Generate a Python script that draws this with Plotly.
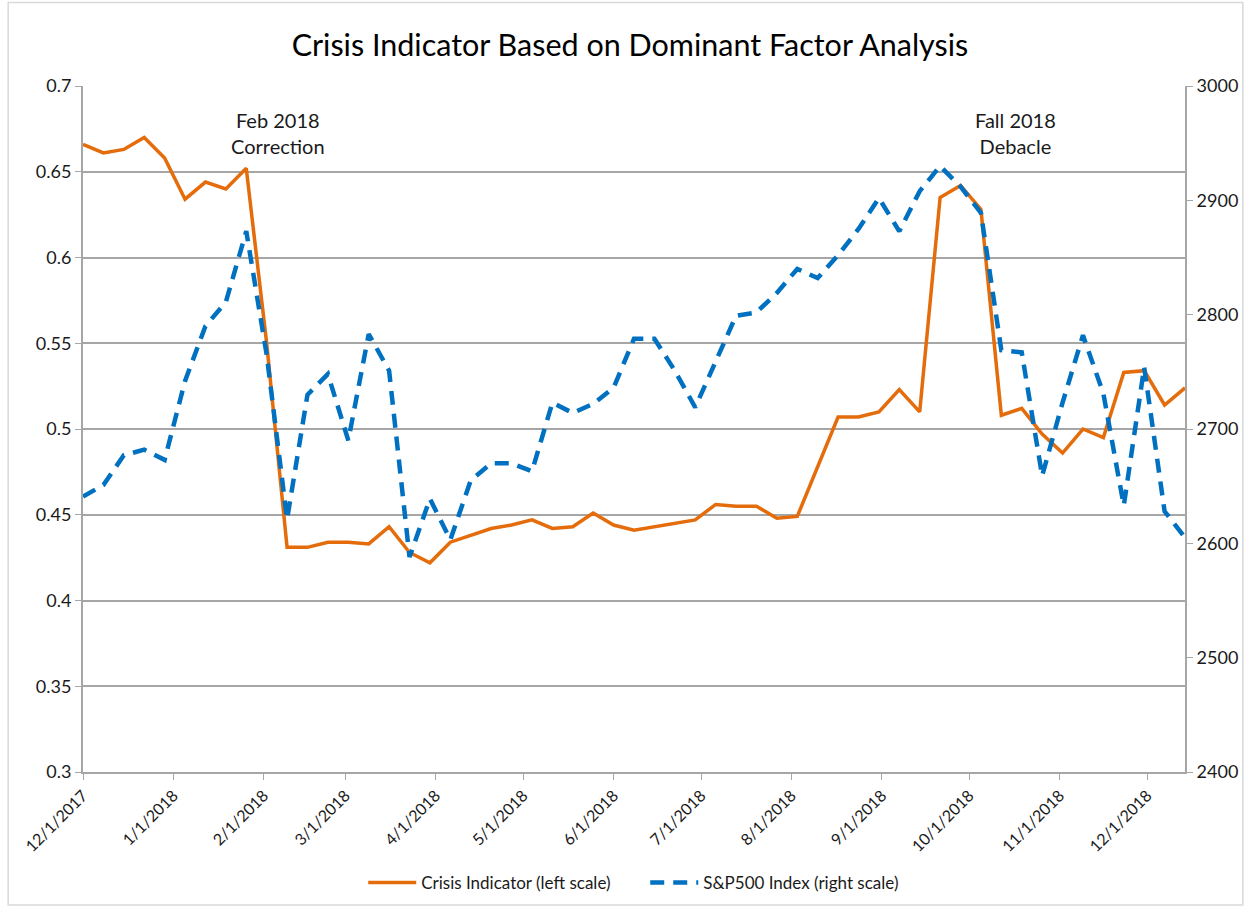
import plotly.graph_objects as go
import pandas as pd

# Weekly observations (Fridays) starting 12/1/2017
start_date = "2017-12-01"
n_weeks = 55
dates = pd.date_range(start_date, periods=n_weeks, freq="7D")

crisis_indicator = [
    0.666, 0.661, 0.663, 0.670, 0.658, 0.634, 0.644, 0.640, 0.652, 0.550,
    0.431, 0.431, 0.434, 0.434, 0.433, 0.443, 0.428, 0.422, 0.434, 0.438,
    0.442, 0.444, 0.447, 0.442, 0.443, 0.451, 0.444, 0.441, 0.443, 0.445,
    0.447, 0.456, 0.455, 0.455, 0.448, 0.449, 0.478, 0.507, 0.507, 0.510,
    0.523, 0.510, 0.635, 0.642, 0.628, 0.508, 0.512, 0.497, 0.486, 0.500,
    0.495, 0.533, 0.534, 0.514, 0.524,
]

sp500 = [
    2641, 2651, 2677, 2682, 2673, 2742, 2790, 2811, 2873, 2765,
    2621, 2730, 2748, 2690, 2783, 2751, 2588, 2639, 2603, 2655,
    2670, 2670, 2663, 2723, 2714, 2722, 2736, 2779, 2779, 2751,
    2719, 2760, 2799, 2802, 2819, 2840, 2832, 2852, 2875, 2902,
    2873, 2908, 2930, 2912, 2889, 2769, 2767, 2659, 2723, 2782,
    2731, 2633, 2754, 2628, 2605,
]

month_ticks = pd.date_range("2017-12-01", "2018-12-01", freq="MS")
month_labels = [f"{d.month}/{d.day}/{d.year}" for d in month_ticks]

left_ticks = [0.3, 0.35, 0.4, 0.45, 0.5, 0.55, 0.6, 0.65, 0.7]
left_labels = ["0.3", "0.35", "0.4", "0.45", "0.5", "0.55", "0.6", "0.65", "0.7"]
right_ticks = [2400, 2500, 2600, 2700, 2800, 2900, 3000]

title_text = "Crisis Indicator Based on Dominant Factor Analysis"
events = [
    {"date": "2018-02-06", "label": "Feb 2018<br>Correction"},
    {"date": "2018-10-17", "label": "Fall 2018<br>Debacle"},
]

FONT = "Lato"
ORANGE = "#E46C0A"
BLUE = "#0070C0"
GRID = "#A6A6A6"
TXT = "#1a1a1a"

fig = go.Figure()
fig.add_trace(go.Scatter(
    x=dates, y=crisis_indicator, mode="lines",
    name="Crisis Indicator (left scale)",
    line=dict(color=ORANGE, width=3.5),
    yaxis="y",
))
fig.add_trace(go.Scatter(
    x=dates, y=sp500, mode="lines",
    name="S&P500 Index (right scale)",
    line=dict(color=BLUE, width=4.5, dash="14px,9px"),
    yaxis="y2",
))

# the photographed viewport is slightly taller than 907, so lay out on 913
W, H = 1250, 913
SY = H / 907.0
L, R = 83, 62
T = round(85 * SY)
B = H - round(772 * SY)
pw, ph = W - L - R, H - T - B

def px2paper(x, y):
    return (x - L) / pw, (H - B - y * SY) / ph

for ev in events:
    fig.add_annotation(
        x=ev["date"], y=1.0, xref="x", yref="paper",
        yshift=-20, text=ev["label"], showarrow=False,
        font=dict(family=FONT, size=20, color=TXT), yanchor="top",
        align="center",
    )

x0, y0 = px2paper(8, 905)
x1, y1 = px2paper(1246, 2)
fig.add_shape(type="rect", xref="paper", yref="paper",
              x0=x0, y0=y0, x1=x1, y1=y1,
              line=dict(color="#D9D9D9", width=1.5), layer="below")

leg_x, leg_y = px2paper(364, 883)

fig.update_layout(
    width=W, height=H,
    margin=dict(l=L, r=R, t=T, b=B),
    paper_bgcolor="white", plot_bgcolor="white",
    title=dict(text=title_text, x=630 / W, xanchor="center",
               y=1 - 45 * SY / H, yanchor="middle",
               font=dict(family=FONT, size=30.5, color="#000000")),
    font=dict(family=FONT, color=TXT),
    showlegend=True,
    legend=dict(orientation="h", x=leg_x, xanchor="left",
                y=leg_y, yanchor="middle",
                font=dict(family=FONT, size=17, color=TXT),
                itemwidth=48, entrywidth=219, entrywidthmode="pixels",
                bgcolor="rgba(0,0,0,0)"),
    xaxis=dict(
        type="date",
        range=[dates[0], dates[-1]],
        tickvals=list(month_ticks), ticktext=month_labels,
        tickangle=-45, ticks="outside", ticklen=6, tickcolor=GRID,
        tickfont=dict(family=FONT, size=16, color=TXT),
        showgrid=False, showline=True, linecolor=GRID, linewidth=2,
        zeroline=False,
    ),
    yaxis=dict(
        range=[0.3, 0.7], tickvals=left_ticks, ticktext=left_labels,
        ticks="outside", ticklen=6, tickcolor=GRID,
        tickfont=dict(family=FONT, size=18, color=TXT),
        showgrid=True, gridcolor=GRID, gridwidth=2,
        showline=True, linecolor=GRID, linewidth=2, zeroline=False,
    ),
    yaxis2=dict(
        range=[2400, 3000], tickvals=right_ticks,
        overlaying="y", side="right",
        ticks="outside", ticklen=6, tickcolor=GRID,
        tickfont=dict(family=FONT, size=18, color=TXT),
        showgrid=False, showline=True, linecolor=GRID, linewidth=2,
        zeroline=False,
    ),
)

page_fix = (
    "var h=document.documentElement, b=document.body;"
    "h.style.margin='0';h.style.padding='0';h.style.overflow='hidden';"
    "b.style.margin='0';b.style.padding='0';b.style.overflow='hidden';"
)

fig.write_html(
    "out.html",
    config={"displayModeBar": False},
    post_script=page_fix,
)
